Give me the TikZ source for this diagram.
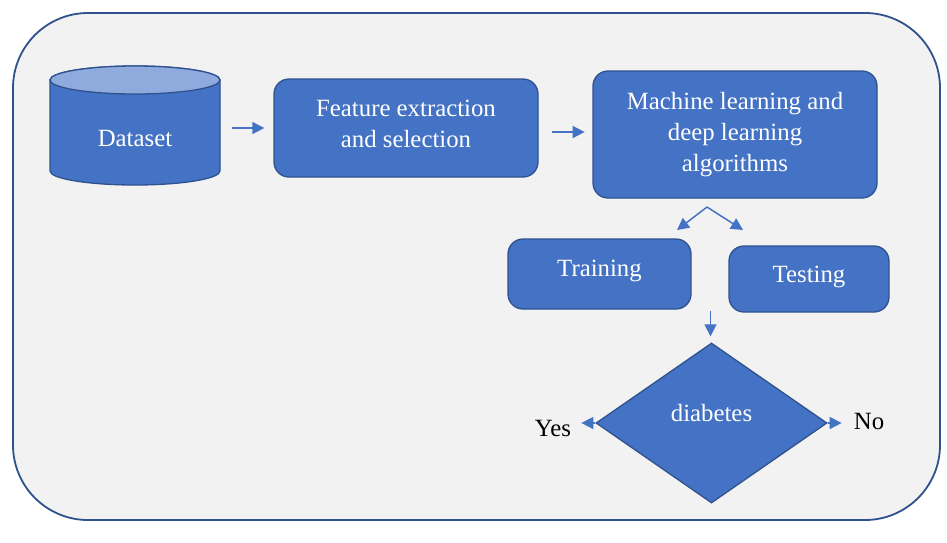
\documentclass[tikz,border=0pt]{standalone}
\usepackage{fontspec}
\newfontfamily\timesfam{Liberation Serif}
\usetikzlibrary{shapes.geometric,arrows.meta}
\definecolor{boxfill}{HTML}{4472C4}
\definecolor{boxline}{HTML}{2F528F}
\definecolor{cyltop}{HTML}{8FAADC}
\definecolor{panel}{HTML}{F2F2F2}
\newcommand\liftby[2]{\raisebox{#1}[\height][\depth]{#2}}
\begin{document}
\begin{tikzpicture}[x=1pt,y=-1pt,
  font=\timesfam\fontsize{24.8}{31}\selectfont,
  stepbox/.style={draw=boxline, line width=1.3pt, fill=boxfill, text=white,
    rounded corners=15pt, align=center, inner sep=0pt},
  decision/.style={diamond, draw=boxline, line width=1.3pt, fill=boxfill,
    text=white, inner sep=0pt, minimum width=231pt, minimum height=160pt},
  wtxt/.style={text=white, inner sep=0pt},
  arr/.style={draw=boxfill, line width=1.5pt,
    -{Triangle[length=12pt,width=12pt]}},
  lbl/.style={text=black, inner sep=0pt}]
\useasboundingbox (0,0) rectangle (947,542);
\fill[white] (0,0) rectangle (947,542);
% outer panel
\draw[draw=boxline, line width=1.8pt, fill=panel, rounded corners=75pt]
  (13,13) rectangle (940,520);

% database cylinder
\path[fill=boxfill, draw=boxline, line width=1.3pt]
  (50,80) -- (50,171) arc[start angle=180, end angle=0, x radius=85, y radius=14]
  -- (220,80) arc[start angle=360, end angle=180, x radius=85, y radius=14] -- cycle;
\path[fill=cyltop, draw=boxline, line width=1.3pt]
  (135,80) ellipse[x radius=85, y radius=14];
\node[wtxt, minimum width=170pt] (data) at (135,128) {\liftby{-10pt}{Dataset}};

% process boxes
\node[stepbox, minimum width=264pt, minimum height=98pt] (feat) at (406,128)
  {\liftby{2pt}{\begin{tabular}{@{}c@{}}Feature extraction\\and selection\end{tabular}}};
\node[stepbox, minimum width=284pt, minimum height=127pt] (ml) at (735,134.5)
  {Machine learning and\\deep learning\\algorithms};
\node[stepbox, minimum width=183pt, minimum height=70pt] (train) at (599.5,274)
  {\liftby{3pt}{Training}};
\node[stepbox, minimum width=160pt, minimum height=66pt] (test) at (809,279)
  {\liftby{2pt}{Testing}};
\node[decision] (dia) at (711.5,423) {\liftby{10pt}{diabetes}};

% connectors
\draw[arr] ([xshift=12pt]data.east) -- ([xshift=-9pt]feat.west);
\draw[arr] ([xshift=13pt,yshift=-4pt]feat.east) -- ++(33,0);
\coordinate (split) at (707,207);
\draw[arr] (split) -- ++(-30,23);
\draw[arr] (split) -- ++(36,23);
\draw[arr] (dia.north) ++(-1,-31) -- ++(0,25);
\draw[arr] (dia.west) -- ++(-14,0);
\draw[arr] (dia.east) -- ++(14,0);

% outcome labels
\node[lbl] (yes) at (553,428) {Yes};
\node[lbl] (no) at (869,421) {No};
\end{tikzpicture}
\end{document}
